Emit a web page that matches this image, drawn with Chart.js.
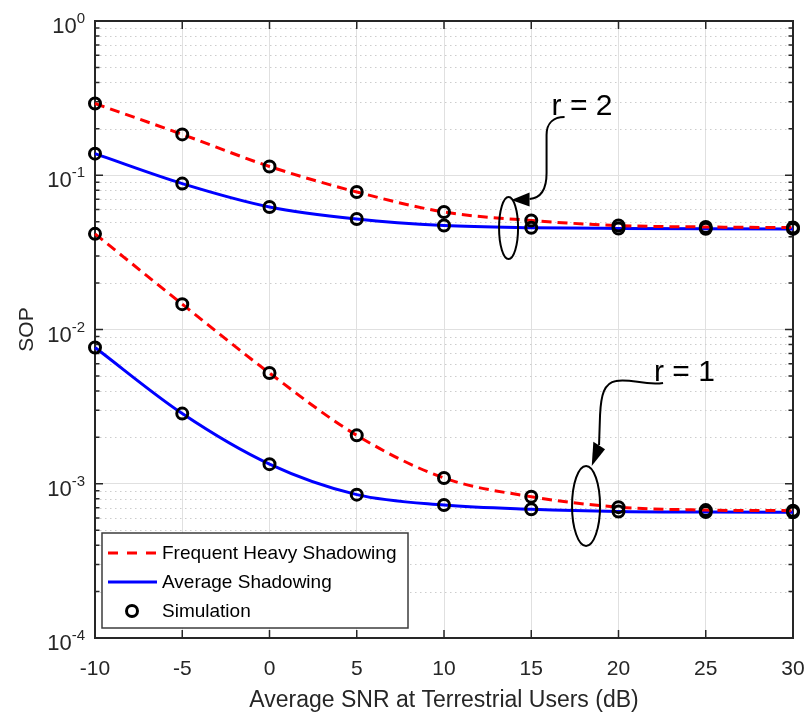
<!DOCTYPE html>
<html>
<head>
<meta charset="utf-8">
<script src="https://cdn.jsdelivr.net/npm/chart.js@4.4.1/dist/chart.umd.min.js"></script>
<style>
  html, body { margin: 0; padding: 0; background: #fff; }
</style>
</head>
<body>
<canvas id="sop" width="808" height="718"></canvas>
<script>
// SNR axis (dB)
const snr = [-10, -5, 0, 5, 10, 15, 20, 25, 30];

// r = 2
const heavyR2 = [0.292, 0.184, 0.114, 0.0779, 0.0578, 0.0509, 0.0472, 0.0462, 0.0458];
const avgR2 = [0.138, 0.0883, 0.0623, 0.052, 0.0472, 0.0457, 0.0452, 0.045, 0.0449];

// r = 1
const heavyR1 = [0.0417, 0.0146, 0.00522, 0.00206, 0.00109, 0.000824, 0.000705, 0.000675, 0.000669];
const avgR1 = [0.00764, 0.00285, 0.00134, 0.00085, 0.000728, 0.000683, 0.00066, 0.000655, 0.000653];

const xTicks = [-10, -5, 0, 5, 10, 15, 20, 25, 30];
const yDecades = [-4, -3, -2, -1, 0];

const legendLabels = ["Frequent Heavy Shadowing", "Average Shadowing", "Simulation"];

const RED = "#ff0000";
const BLUE = "#0000ff";
const AXIS = "#262626";
const FONT = "'Liberation Sans', Arial, sans-serif";

const pts = arr => snr.map((x, i) => ({ x, y: arr[i] }));

const curve = (label, arr, color, dash, order) => ({
  label,
  data: pts(arr),
  borderColor: color,
  borderWidth: 3,
  borderDash: dash,
  pointRadius: 0,
  fill: false,
  cubicInterpolationMode: "monotone",
  clip: false,
  order
});

const sim = arr => ({
  label: "Simulation",
  data: pts(arr),
  showLine: false,
  pointRadius: 5.5,
  pointBorderWidth: 3,
  pointBorderColor: "#000",
  pointBackgroundColor: "rgba(0,0,0,0)",
  clip: false,
  order: 0
});

// minor grid, box, inward ticks, y labels with exponents
const frame = {
  id: "frame",
  beforeDatasetsDraw(chart) {
    const { ctx, chartArea: a, scales: { x, y } } = chart;
    ctx.save();
    ctx.strokeStyle = "#cdcdcd";
    ctx.lineWidth = 1;
    ctx.setLineDash([1.5, 3.5]);
    yDecades.slice(0, -1).forEach(e => {
      for (let m = 2; m <= 9; m++) {
        const py = Math.round(y.getPixelForValue(m * Math.pow(10, e))) + 0.5;
        ctx.beginPath();
        ctx.moveTo(a.left, py);
        ctx.lineTo(a.right, py);
        ctx.stroke();
      }
    });
    ctx.setLineDash([]);

    ctx.strokeStyle = AXIS;
    ctx.lineWidth = 1.5;
    yDecades.forEach(e => {
      const py = y.getPixelForValue(Math.pow(10, e));
      ctx.beginPath();
      ctx.moveTo(a.left, py); ctx.lineTo(a.left + 8, py);
      ctx.moveTo(a.right, py); ctx.lineTo(a.right - 8, py);
      ctx.stroke();
      if (e < 0) {
        for (let m = 2; m <= 9; m++) {
          const q = y.getPixelForValue(m * Math.pow(10, e));
          ctx.beginPath();
          ctx.moveTo(a.left, q); ctx.lineTo(a.left + 4.5, q);
          ctx.moveTo(a.right, q); ctx.lineTo(a.right - 4.5, q);
          ctx.stroke();
        }
      }
    });
    xTicks.forEach(v => {
      const px = x.getPixelForValue(v);
      ctx.beginPath();
      ctx.moveTo(px, a.bottom); ctx.lineTo(px, a.bottom - 8);
      ctx.moveTo(px, a.top); ctx.lineTo(px, a.top + 8);
      ctx.stroke();
    });

    ctx.lineWidth = 2;
    ctx.strokeRect(a.left, a.top, a.right - a.left, a.bottom - a.top);

    // y tick labels 10^e
    ctx.fillStyle = AXIS;
    ctx.textBaseline = "alphabetic";
    ctx.textAlign = "right";
    yDecades.forEach(e => {
      const py = y.getPixelForValue(Math.pow(10, e));
      const ex = e === 0 ? "0" : "-" + Math.abs(e);
      ctx.font = "15px " + FONT;
      const w = ctx.measureText(ex).width;
      const right = a.left - 10;
      ctx.fillText(ex, right, py + 2);
      ctx.font = "22px " + FONT;
      ctx.fillText("10", right - w, py + 12);
    });
    ctx.restore();
  }
};

// r = 1 / r = 2 callouts, anchored on the data scales
const callouts = [
  {
    text: "r = 2", at: [13.7, 0.0455], rx: 9.5, ry: 31, textAt: [43, -113],
    path: [["M", 56, -111], ["C", 46, -111, 38, -106, 38, -93], ["L", 38, -55], ["C", 38, -40, 33, -30, 21, -29]],
    head: [[2.7, -28], [21, -35.5], [21, -21.5]]
  },
  {
    text: "r = 1", at: [18.14, 0.000718], rx: 14, ry: 40, textAt: [68, -125],
    path: [["M", 77, -123], ["C", 59, -120, 44, -128, 30, -125], ["C", 18, -123, 15, -111, 14, -91], ["L", 13, -61]],
    head: [[5.7, -40], [7.3, -64.3], [19, -56.7]]
  }
];

const notes = {
  id: "notes",
  afterDatasetsDraw(chart) {
    const { ctx, scales: { x, y } } = chart;
    ctx.save();
    ctx.strokeStyle = "#000";
    ctx.fillStyle = "#000";
    ctx.lineWidth = 2;
    callouts.forEach(c => {
      const cx = x.getPixelForValue(c.at[0]);
      const cy = y.getPixelForValue(c.at[1]);
      ctx.beginPath();
      ctx.ellipse(cx, cy, c.rx, c.ry, 0, 0, Math.PI * 2);
      ctx.stroke();

      ctx.beginPath();
      c.path.forEach(p => {
        if (p[0] === "M") ctx.moveTo(cx + p[1], cy + p[2]);
        else if (p[0] === "L") ctx.lineTo(cx + p[1], cy + p[2]);
        else ctx.bezierCurveTo(cx + p[1], cy + p[2], cx + p[3], cy + p[4], cx + p[5], cy + p[6]);
      });
      ctx.stroke();

      ctx.beginPath();
      c.head.forEach((h, i) => i ? ctx.lineTo(cx + h[0], cy + h[1]) : ctx.moveTo(cx + h[0], cy + h[1]));
      ctx.closePath();
      ctx.fill();

      ctx.font = "30px " + FONT;
      ctx.textAlign = "left";
      ctx.textBaseline = "alphabetic";
      ctx.fillText(c.text, cx + c.textAt[0], cy + c.textAt[1]);
    });
    ctx.restore();
  }
};

// MATLAB-style legend box in the lower left of the axes
const legendBox = {
  id: "legendBox",
  afterDraw(chart) {
    const { ctx, chartArea: a } = chart;
    const bx = a.left + 7, by = a.bottom - 105, bw = 306, bh = 95;
    ctx.save();
    ctx.fillStyle = "#fff";
    ctx.fillRect(bx, by, bw, bh);
    ctx.strokeStyle = "#3c3c3c";
    ctx.lineWidth = 1.5;
    ctx.strokeRect(bx, by, bw, bh);

    const rows = [by + 20, by + 49, by + 78];
    ctx.lineWidth = 3;
    ctx.strokeStyle = RED;
    ctx.setLineDash([10, 9]);
    ctx.beginPath(); ctx.moveTo(bx + 6, rows[0]); ctx.lineTo(bx + 56, rows[0]); ctx.stroke();
    ctx.setLineDash([]);
    ctx.strokeStyle = BLUE;
    ctx.beginPath(); ctx.moveTo(bx + 6, rows[1]); ctx.lineTo(bx + 55, rows[1]); ctx.stroke();
    ctx.strokeStyle = "#000";
    ctx.beginPath(); ctx.arc(bx + 30, rows[2], 5.5, 0, Math.PI * 2); ctx.stroke();

    ctx.fillStyle = "#000";
    ctx.font = "19px " + FONT;
    ctx.textAlign = "left";
    ctx.textBaseline = "middle";
    legendLabels.forEach((t, i) => ctx.fillText(t, bx + 60, rows[i] + 1));
    ctx.restore();
  }
};

new Chart(document.getElementById("sop"), {
  type: "line",
  data: {
    datasets: [
      sim(heavyR2), sim(avgR2), sim(heavyR1), sim(avgR1),
      curve(legendLabels[0], heavyR2, RED, [10, 6], 1),
      curve(legendLabels[0], heavyR1, RED, [10, 6], 1),
      curve(legendLabels[1], avgR2, BLUE, [], 2),
      curve(legendLabels[1], avgR1, BLUE, [], 2)
    ]
  },
  options: {
    responsive: false,
    animation: false,
    layout: { padding: { top: 21, right: 15, left: 0, bottom: 0 } },
    plugins: { legend: { display: false }, tooltip: { enabled: false } },
    scales: {
      x: {
        type: "linear",
        min: -10,
        max: 30,
        afterBuildTicks: s => { s.ticks = xTicks.map(v => ({ value: v })); },
        afterFit: s => { s.height = 80; s.paddingLeft = 0; s.paddingRight = 0; },
        ticks: { color: AXIS, font: { family: FONT, size: 21 }, padding: 19 },
        grid: { color: "#e0e0e0", lineWidth: 1, drawTicks: false },
        border: { display: false },
        title: {
          display: true,
          text: "Average SNR at Terrestrial Users (dB)",
          color: AXIS,
          font: { family: FONT, size: 23 },
          padding: { top: 0, bottom: 4 }
        }
      },
      y: {
        type: "logarithmic",
        min: 1e-4,
        max: 1,
        afterBuildTicks: s => { s.ticks = yDecades.map(e => ({ value: Math.pow(10, e) })); },
        afterFit: s => { s.width = 95; s.paddingTop = 0; s.paddingBottom = 0; },
        ticks: { display: false },
        grid: { color: "#e0e0e0", lineWidth: 1, drawTicks: false },
        border: { display: false },
        title: {
          display: true,
          text: "SOP",
          color: AXIS,
          font: { family: FONT, size: 21 },
          padding: { top: 15, bottom: 0 }
        }
      }
    }
  },
  plugins: [frame, notes, legendBox]
});
</script>
</body>
</html>
